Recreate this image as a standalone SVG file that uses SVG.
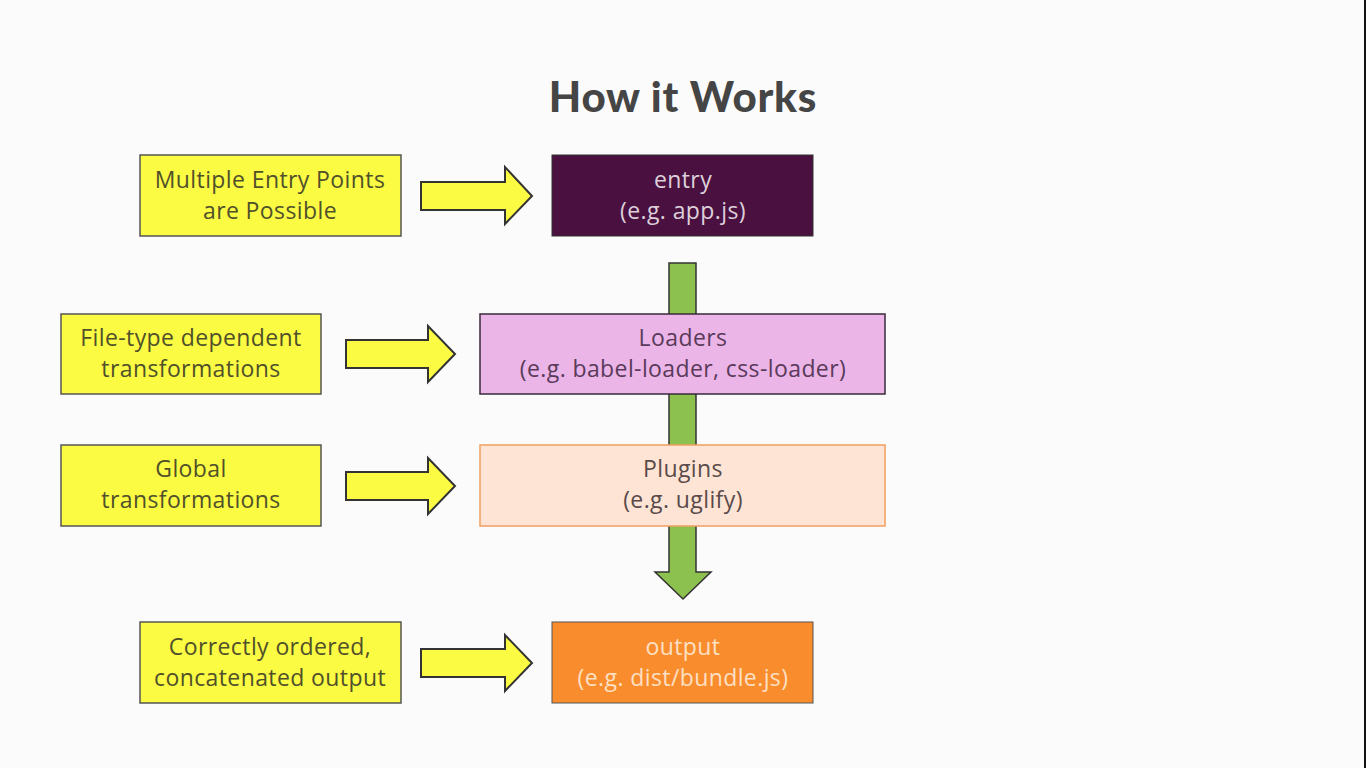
<svg xmlns="http://www.w3.org/2000/svg" width="1366" height="768" viewBox="0 0 1366 768">
<style>
.note{fill:#fbfb44;stroke:#555;stroke-width:1.5}
.nt{font-family:"Open Sans","Liberation Sans",sans-serif;font-size:23px;letter-spacing:0.4px;fill:#50502a;text-anchor:middle}
.arr{fill:#fbfb44;stroke:#333;stroke-width:2;stroke-linejoin:miter}
.bt{font-family:"Open Sans","Liberation Sans",sans-serif;font-size:23px;letter-spacing:0.4px;text-anchor:middle}
</style>
<rect x="0" y="0" width="1366" height="768" fill="#fbfbfb"/>
<rect x="1364" y="0" width="2" height="768" fill="#111"/>
<text x="683" y="112" font-family="Lato,'Open Sans',sans-serif" font-weight="900" font-size="42" letter-spacing="0.8" fill="#454545" text-anchor="middle">How it Works</text>

<g id="connectors">
<path class="arr" d="M421,182 H505 V167 L532,196 L505,224 V210 H421 Z"/>
<path class="arr" d="M346,340 H428 V326 L455,354 L428,382 V368 H346 Z"/>
<path class="arr" d="M346,472 H428 V458 L455,486 L428,514 V500 H346 Z"/>
<path class="arr" d="M421,649 H505 V635 L532,663 L505,691 V677 H421 Z"/>
<path d="M669,263 H696 V572 H711 L683,599 L655,572 H669 Z" fill="#8dc14f" stroke="#333" stroke-width="1.5"/>
</g>

<g id="note-entry">
<rect class="note" x="140" y="155" width="261" height="81"/>
<text class="nt" x="270" y="188">Multiple Entry Points</text>
<text class="nt" x="270" y="219">are Possible</text>
</g>
<g id="entry">
<rect x="552" y="155" width="261" height="81" fill="#4a1040" stroke="#333" stroke-width="1"/>
<text class="bt" x="683" y="188" fill="#ddd0da">entry</text>
<text class="bt" x="683" y="219" fill="#ddd0da">(e.g. app.js)</text>
</g>

<g id="note-loaders">
<rect class="note" x="61" y="314" width="260" height="80"/>
<text class="nt" x="191" y="346">File-type dependent</text>
<text class="nt" x="191" y="377">transformations</text>
</g>
<g id="loaders">
<rect x="480" y="314" width="405" height="80" fill="#ebb5e8" stroke="#3a2a3a" stroke-width="1.5"/>
<text class="bt" x="683" y="346" fill="#5a3a5a">Loaders</text>
<text class="bt" x="683" y="377" fill="#5a3a5a">(e.g. babel-loader, css-loader)</text>
</g>

<g id="note-plugins">
<rect class="note" x="61" y="445" width="260" height="81"/>
<text class="nt" x="191" y="477">Global</text>
<text class="nt" x="191" y="508">transformations</text>
</g>
<g id="plugins">
<rect x="480" y="445" width="405" height="81" fill="#fde4d4" stroke="#f0a060" stroke-width="1.5"/>
<text class="bt" x="683" y="477" fill="#5a4a4a">Plugins</text>
<text class="bt" x="683" y="508" fill="#5a4a4a">(e.g. uglify)</text>
</g>

<g id="note-output">
<rect class="note" x="140" y="622" width="261" height="81"/>
<text class="nt" x="270" y="655">Correctly ordered,</text>
<text class="nt" x="270" y="686">concatenated output</text>
</g>
<g id="output">
<rect x="552" y="622" width="261" height="81" fill="#f98c2d" stroke="#555" stroke-width="1"/>
<text class="bt" x="683" y="655" fill="#fde0c4">output</text>
<text class="bt" x="683" y="686" fill="#fde0c4">(e.g. dist/bundle.js)</text>
</g>
</svg>
